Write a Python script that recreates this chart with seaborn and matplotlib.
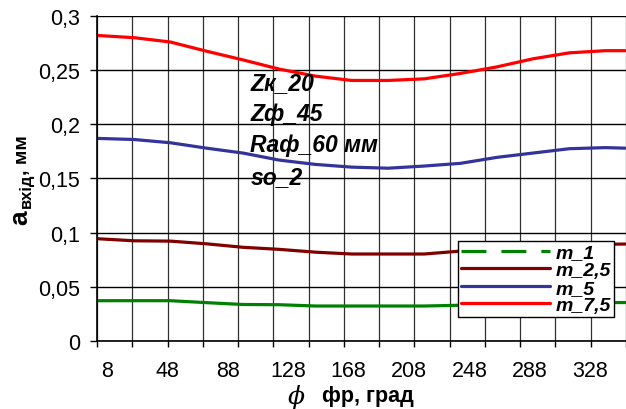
import pandas as pd
import seaborn as sns
import matplotlib.pyplot as plt
from matplotlib.lines import Line2D
from matplotlib.ticker import FixedLocator

# angle values (deg) and measured a_vhid (mm) for each m
phi = [2, 26, 50, 74, 98, 122, 146, 170, 194, 218, 242, 266, 290, 314, 338, 351]
m_1 = [0.0372, 0.0372, 0.0372, 0.0354, 0.0337, 0.0335, 0.0323, 0.0323,
       0.0323, 0.0323, 0.0330, 0.0340, 0.0345, 0.0350, 0.0355, 0.0355]
m_2_5 = [0.0944, 0.0925, 0.0922, 0.0897, 0.0865, 0.0846, 0.0820, 0.0803,
         0.0803, 0.0803, 0.0830, 0.0850, 0.0865, 0.0880, 0.0893, 0.0895]
m_5 = [0.1870, 0.1860, 0.1830, 0.1780, 0.1735, 0.1670, 0.1630, 0.1605,
       0.1595, 0.1615, 0.1640, 0.1695, 0.1735, 0.1775, 0.1785, 0.1780]
m_7_5 = [0.2820, 0.2800, 0.2760, 0.2675, 0.2595, 0.2510, 0.2445, 0.2405,
         0.2405, 0.2420, 0.2470, 0.2530, 0.2605, 0.2660, 0.2680, 0.2680]

series_names = ['m_1', 'm_2,5', 'm_5', 'm_7,5']
colors = ['#008000', '#800000', '#333399', '#FF0000']
xtick_vals = [8, 48, 88, 128, 168, 208, 248, 288, 328]
ytick_vals = [0, 0.05, 0.1, 0.15, 0.2, 0.25, 0.3]
ytick_labels = ['0', '0,05', '0,1', '0,15', '0,2', '0,25', '0,3']

df = pd.DataFrame({'phi': phi * 4,
                   'a': m_1 + m_2_5 + m_5 + m_7_5,
                   'series': sum([[n] * len(phi) for n in series_names], [])})

sns.set_style('white')
plt.rcParams['font.family'] = ['Liberation Sans', 'DejaVu Sans']
plt.rcParams.update({'text.color': 'black', 'axes.labelcolor': 'black',
                     'xtick.color': 'black', 'ytick.color': 'black'})

fig = plt.figure(figsize=(6.26, 4.10), dpi=100)
ax = fig.add_axes([97 / 626, 68 / 410, 529 / 626, 325 / 410])

sns.lineplot(data=df, x='phi', y='a', hue='series', palette=colors,
             hue_order=series_names, linewidth=2.3, ax=ax, legend=False)

ax.set_xlim(1.5, 351.5)
ax.set_ylim(0, 0.3)

# grid: y every 0.05, x every 1/15 of the axis
ax.yaxis.set_major_locator(FixedLocator(ytick_vals))
ax.set_yticklabels(ytick_labels, fontsize=15.5)
ax.xaxis.set_major_locator(FixedLocator(xtick_vals))
ax.set_xticklabels([str(v) for v in xtick_vals], fontsize=15.5)
step = (351.5 - 1.5) / 15
ax.xaxis.set_minor_locator(FixedLocator([1.5 + i * step for i in range(16)]))

ax.grid(False)
ax.grid(axis='y', which='major', color='black', linewidth=1.0)
ax.grid(axis='x', which='minor', color='#303030', linewidth=0.9)
ax.tick_params(axis='y', which='major', direction='out', length=5, width=1,
               color='black', pad=7, left=True)
ax.tick_params(axis='x', which='major', length=0, pad=14)
ax.tick_params(axis='x', which='minor', direction='out', length=4, width=1,
               color='black', bottom=True)

for side in ['top', 'right']:
    ax.spines[side].set_visible(False)
for side in ['left', 'bottom']:
    ax.spines[side].set_color('black')
    ax.spines[side].set_linewidth(1.2)

ax.set_xlabel('')
ax.set_ylabel('')

# legend (m_1 shown dashed as in the original)
handles = [Line2D([], [], color=colors[0], lw=2.3, ls=(0, (7.8, 4.7))),
           Line2D([], [], color=colors[1], lw=2.3),
           Line2D([], [], color=colors[2], lw=2.3),
           Line2D([], [], color=colors[3], lw=2.3)]
leg = ax.legend(handles, series_names, loc='upper left',
                bbox_to_anchor=(0.682, 0.308), borderaxespad=0,
                prop={'weight': 'bold', 'style': 'italic', 'size': 14},
                handlelength=4.6, handletextpad=0.3, labelspacing=0.0,
                borderpad=0.15, fancybox=False, framealpha=1, edgecolor='black')
leg.get_frame().set_linewidth(1.0)

# parameter block
ax.text(103, 0.249, 'Zк_20\nZф_45\nRaф_60 мм\nso_2', fontsize=16.5,
        fontweight='bold', fontstyle='italic', va='top', ha='left',
        linespacing=1.45)

# axis titles
fig.text(20 / 626, 1 - 218 / 410, 'a', rotation=90, fontsize=19,
         fontweight='bold', ha='center', va='center')
fig.text(26 / 626, 1 - 191 / 410, 'вхід', rotation=90, fontsize=12,
         fontweight='bold', ha='center', va='center')
fig.text(22 / 626, 1 - 155 / 410, ', мм', rotation=90, fontsize=14,
         fontweight='bold', ha='center', va='center')
fig.text(296 / 626, 1 - 404 / 410, 'ϕ', fontsize=18, family='DejaVu Serif',
         fontstyle='italic', ha='center', va='baseline')
fig.text(322 / 626, 1 - 402 / 410, 'фр, град', fontsize=15.5,
         fontweight='bold', ha='left', va='baseline')

fig.savefig('out.png', dpi=100)
plt.close(fig)
